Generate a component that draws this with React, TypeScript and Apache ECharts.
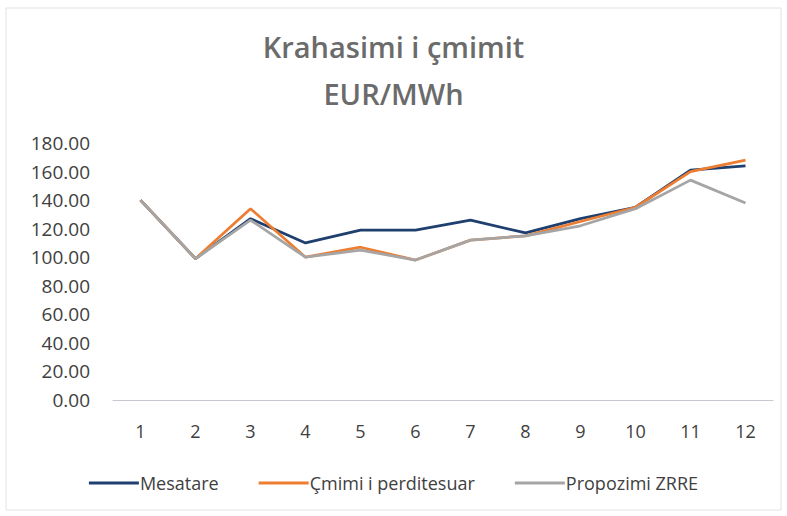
import React, { useEffect, useRef } from "react";
import * as echarts from "echarts";

const categories = ["1", "2", "3", "4", "5", "6", "7", "8", "9", "10", "11", "12"];
const mesatare = [140, 99, 127, 110, 119, 119, 126, 117, 127, 135, 161, 164];
const cmimiPerditesuar = [140, 99, 134, 100, 107, 98, 112, 115, 125, 135, 160, 168];
const propozimiZRRE = [140, 99, 126, 100, 105, 98, 112, 115, 122, 134, 154, 138];
const yTicks = { min: 0, max: 180, interval: 20 };

export default function App() {
  const ref = useRef<HTMLDivElement>(null);
  useEffect(() => {
    document.body.style.margin = "0";
    const chart = echarts.init(ref.current!, null, { renderer: "svg" });
    const font = "'Open Sans', 'Noto Sans', sans-serif";
    chart.setOption({
      animation: false,
      backgroundColor: "#ffffff",
      title: {
        text: "Krahasimi i çmimit\nEUR/MWh",
        left: "center",
        top: 18,
        textStyle: {
          fontFamily: font,
          fontSize: 29,
          fontWeight: 600,
          color: "#6b6b6b",
          lineHeight: 47,
        },
      },
      grid: { left: 113, right: 14, top: 143, bottom: 116, containLabel: false },
      xAxis: {
        type: "category",
        data: categories,
        boundaryGap: true,
        axisLine: { show: true, lineStyle: { color: "#c8c8d0", width: 1 } },
        axisTick: { show: false },
        axisLabel: { color: "#404040", fontSize: 18, fontFamily: font, margin: 22 },
        splitLine: { show: false },
      },
      yAxis: {
        type: "value",
        min: yTicks.min,
        max: yTicks.max,
        interval: yTicks.interval,
        axisLine: { show: false },
        axisTick: { show: false },
        splitLine: { show: false },
        axisLabel: {
          color: "#404040",
          fontSize: 19,
          fontFamily: font,
          margin: 23,
          formatter: (v: number) => v.toFixed(2),
        },
      },
      legend: {
        bottom: 19,
        left: "center",
        itemWidth: 50,
        itemHeight: 3,
        itemGap: 40,
        icon: "rect",
        textStyle: { color: "#404040", fontSize: 18, fontFamily: font, padding: [0, 0, 0, -4] },
        data: ["Mesatare", "Çmimi i perditesuar", "Propozimi ZRRE"],
      },
      series: [
        {
          name: "Mesatare",
          type: "line",
          data: mesatare,
          symbol: "none",
          lineStyle: { color: "#1f3f6e", width: 2.75 },
          itemStyle: { color: "#1f3f6e" },
        },
        {
          name: "Çmimi i perditesuar",
          type: "line",
          data: cmimiPerditesuar,
          symbol: "none",
          lineStyle: { color: "#ed7d31", width: 2.75 },
          itemStyle: { color: "#ed7d31" },
        },
        {
          name: "Propozimi ZRRE",
          type: "line",
          data: propozimiZRRE,
          symbol: "none",
          lineStyle: { color: "#a5a5a5", width: 2.75 },
          itemStyle: { color: "#a5a5a5" },
        },
      ],
      graphic: [
        {
          type: "rect",
          shape: { x: 6, y: 8, width: 775, height: 502 },
          style: { fill: "none", stroke: "#e2e2e2", lineWidth: 1 },
          silent: true,
        },
      ],
    });
    return () => chart.dispose();
  }, []);
  return <div ref={ref} style={{ width: 787, height: 516 }} />;
}
